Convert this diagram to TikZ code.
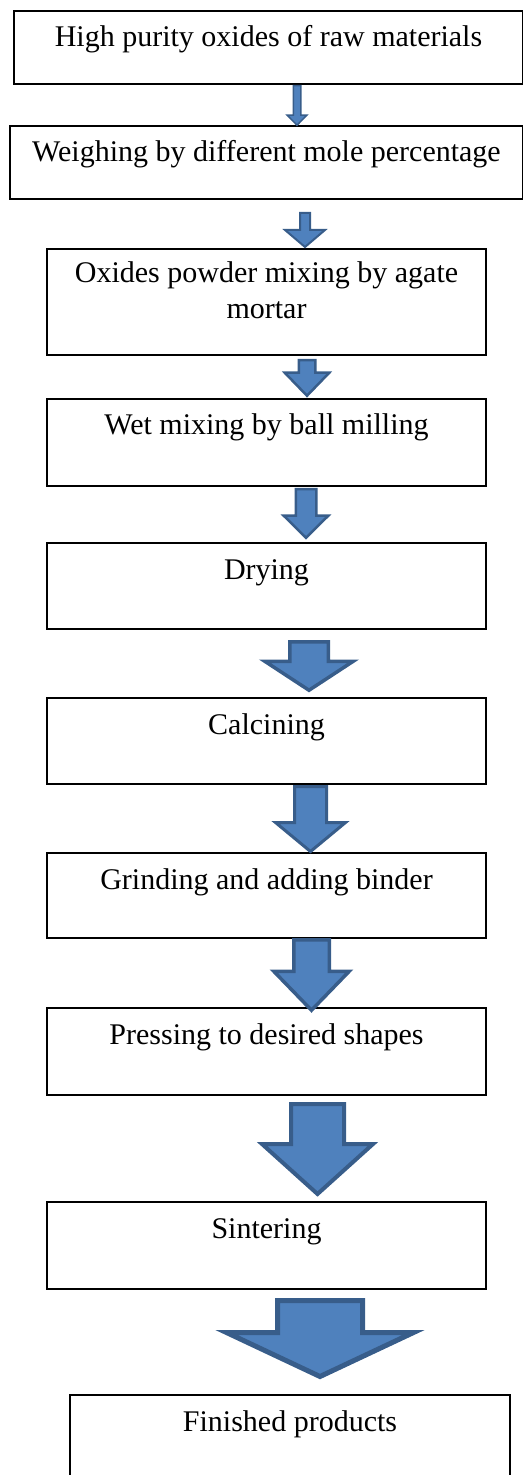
\documentclass[tikz,border=0pt]{standalone}
\usepackage{fontspec}
\setmainfont{Liberation Serif}
\usetikzlibrary{calc}
\definecolor{wblue}{HTML}{4F81BD}
\definecolor{wedge}{HTML}{385D8A}
\tikzstyle{stepbox} = [rectangle, draw, line width=1pt, anchor=north west, inner xsep=0pt, inner ysep=0pt, align=center, text height=18pt]
\tikzstyle{blockarrow} = [fill=wblue, draw=wedge, line join=miter]
% #1 border, #2 from, #3 to, #4 centre x, #5 gap below #2, #6 overlap into #3, #7 shaft, #8 head, #9 head length
\newcommand{\flowarrow}[9]{%
  \coordinate (#2-top) at ($(#4,0 |- #2.south)+(0,#5+#1/2)$);
  \coordinate (#2-tip) at ($(#4,0 |- #3.north)+(0,#6-#1/2)$);
  \draw [blockarrow, line width=#1*0.5pt]
    ($(#2-top)+({-(#7-#1)/2},0)$) -- ($(#2-tip)+({-(#7-#1)/2},{-#9})$)
    -- ($(#2-tip)+({-(#8-#1)/2},{-#9})$) -- (#2-tip)
    -- ($(#2-tip)+({(#8-#1)/2},{-#9})$) -- ($(#2-tip)+({(#7-#1)/2},{-#9})$)
    -- ($(#2-top)+({(#7-#1)/2},0)$) -- cycle;
}
\begin{document}
\begin{tikzpicture}[x=0.5pt, y=-0.5pt, font=\fontsize{15}{18}\selectfont]
\useasboundingbox (0,0) rectangle (523,1475);
%Process steps
\node (raw) [stepbox, minimum width=509*0.5pt, text depth=18.5pt] at (13,10) {High purity oxides of raw materials};
\node (weigh) [stepbox, minimum width=513*0.5pt, text depth=18.5pt] at (9,125) {Weighing by different mole percentage};
\node (mortar) [stepbox, minimum width=439*0.5pt, text height=35pt, text depth=18pt] at (46,248) {Oxides powder mixing by agate\\mortar};
\node (ballmill) [stepbox, minimum width=439*0.5pt, text depth=25.5pt] at (46,398) {Wet mixing by ball milling};
\node (dry) [stepbox, minimum width=439*0.5pt, text depth=25pt] at (46,542) {Drying};
\node (calcine) [stepbox, minimum width=439*0.5pt, text depth=25pt] at (46,697) {Calcining};
\node (grind) [stepbox, minimum width=439*0.5pt, text depth=24.5pt] at (46,852) {Grinding and adding binder};
\node (press) [stepbox, minimum width=439*0.5pt, text depth=25.5pt] at (46,1007) {Pressing to desired shapes};
\node (sinter) [stepbox, minimum width=439*0.5pt, text depth=25.5pt] at (46,1201) {Sintering};
\node (product) [stepbox, minimum width=440*0.5pt, text depth=42pt] at (69,1394) {Finished products};
%Arrows
\flowarrow{1.5}{raw}{weigh}{297}{0}{1}{9}{21}{10}
\flowarrow{2}{weigh}{mortar}{305}{12}{0}{12}{42}{17}
\flowarrow{2.5}{mortar}{ballmill}{307}{3}{-1}{19}{47}{23}
\flowarrow{2.5}{ballmill}{dry}{306}{1}{-3}{23}{47}{22}
\flowarrow{3.5}{dry}{calcine}{309}{10}{-5}{42}{92}{29}
\flowarrow{3}{calcine}{grind}{310.5}{0}{1}{35}{73}{29}
\flowarrow{3.5}{grind}{press}{311.5}{-1}{5}{39}{79}{39}
\flowarrow{4}{press}{sinter}{317.5}{6}{-5}{57}{115}{50}
\flowarrow{5}{sinter}{product}{320}{8}{-15}{90}{192}{44}
\end{tikzpicture}
\end{document}
